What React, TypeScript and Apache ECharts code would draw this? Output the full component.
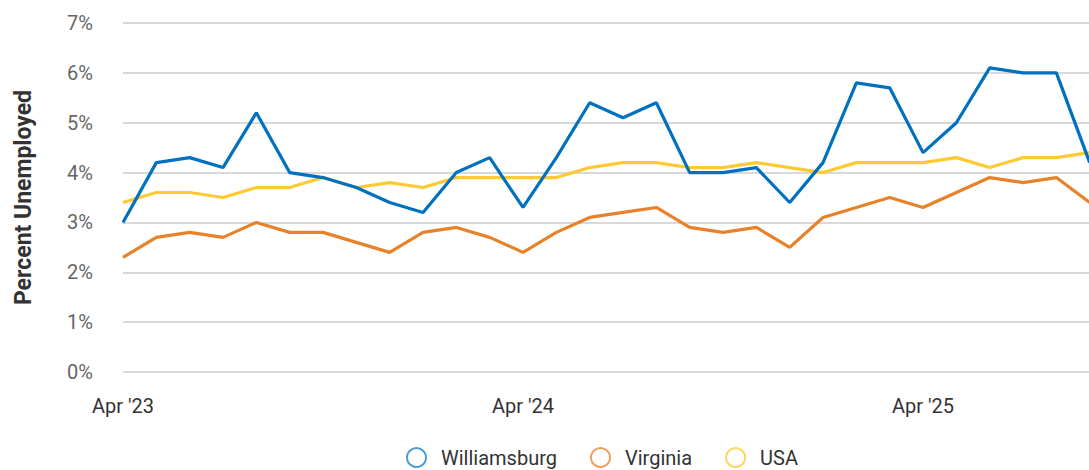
import React, { useEffect, useRef } from "react";
import * as echarts from "echarts";

const months = ["Apr", "May", "Jun", "Jul", "Aug", "Sep", "Oct", "Nov", "Dec", "Jan", "Feb", "Mar"];
const categories: string[] = [];
for (let i = 0; i < 30; i++) {
  const m = months[i % 12];
  const y = 23 + Math.floor((i + 3) / 12);
  categories.push(`${m} '${y}`);
}

const williamsburg = [3.0, 4.2, 4.3, 4.1, 5.2, 4.0, 3.9, 3.7, 3.4, 3.2, 4.0, 4.3, 3.3, 4.3, 5.4, 5.1, 5.4, 4.0, 4.0, 4.1, 3.4, 4.2, 5.8, 5.7, 4.4, 5.0, 6.1, 6.0, 6.0, 4.2];
const virginia = [2.3, 2.7, 2.8, 2.7, 3.0, 2.8, 2.8, 2.6, 2.4, 2.8, 2.9, 2.7, 2.4, 2.8, 3.1, 3.2, 3.3, 2.9, 2.8, 2.9, 2.5, 3.1, 3.3, 3.5, 3.3, 3.6, 3.9, 3.8, 3.9, 3.4];
const usa = [3.4, 3.6, 3.6, 3.5, 3.7, 3.7, 3.9, 3.7, 3.8, 3.7, 3.9, 3.9, 3.9, 3.9, 4.1, 4.2, 4.2, 4.1, 4.1, 4.2, 4.1, 4.0, 4.2, 4.2, 4.2, 4.3, 4.1, 4.3, 4.3, 4.4];

const seriesNames = ["Williamsburg", "Virginia", "USA"];
const lineColors = ["#0070C0", "#E8822A", "#FFC931"];
const legendColors = ["#4A9BD8", "#EDA05E", "#FFD45E"];

export default function App() {
  const ref = useRef<HTMLDivElement>(null);
  useEffect(() => {
    if (!ref.current) return;
    const chart = echarts.init(ref.current, null, { renderer: "svg" });
    const datas = [williamsburg, virginia, usa];
    chart.setOption({
      animation: false,
      textStyle: { fontFamily: "Roboto" },
      grid: { left: 123, right: 10.3, top: 23, bottom: 98, containLabel: false },
      legend: {
        left: 401,
        top: 442,
        itemWidth: 19,
        itemHeight: 19,
        itemGap: 33,
        icon: "circle",
        textStyle: { fontSize: 20, color: "#333", fontFamily: "Roboto", padding: [0, 0, 0, 10] },
        data: seriesNames.map((n, i) => ({
          name: n,
          itemStyle: { color: "transparent", borderColor: legendColors[i], borderWidth: 2 },
        })),
      },
      xAxis: {
        type: "category",
        data: categories,
        boundaryGap: false,
        axisLine: { show: false },
        axisTick: { show: false },
        axisLabel: { interval: 11, margin: 24, fontSize: 20, color: "#333", fontFamily: "Roboto" },
      },
      yAxis: {
        type: "value",
        min: 0,
        max: 7,
        interval: 1,
        name: "Percent Unemployed",
        nameLocation: "middle",
        nameGap: 88,
        nameTextStyle: { fontSize: 23, fontWeight: "bold", color: "#333", fontFamily: "Roboto" },
        axisLabel: { formatter: "{value}%", margin: 30, fontSize: 20, color: "#666", fontFamily: "Roboto" },
        splitLine: { lineStyle: { color: "#cccccc", width: 1.5 } },
      },
      series: seriesNames.map((n, i) => ({
        name: n,
        type: "line",
        data: datas[i],
        symbol: "none",
        lineStyle: { color: lineColors[i], width: 3.2 },
        itemStyle: { color: lineColors[i] },
        z: 3 - i,
      })),
    });
    return () => chart.dispose();
  }, []);
  return (
    <div style={{ position: "fixed", left: 0, top: 0, width: 1089, height: 470, overflow: "hidden", background: "#fff" }}>
      <div ref={ref} style={{ width: 1100, height: 470 }} />
    </div>
  );
}
